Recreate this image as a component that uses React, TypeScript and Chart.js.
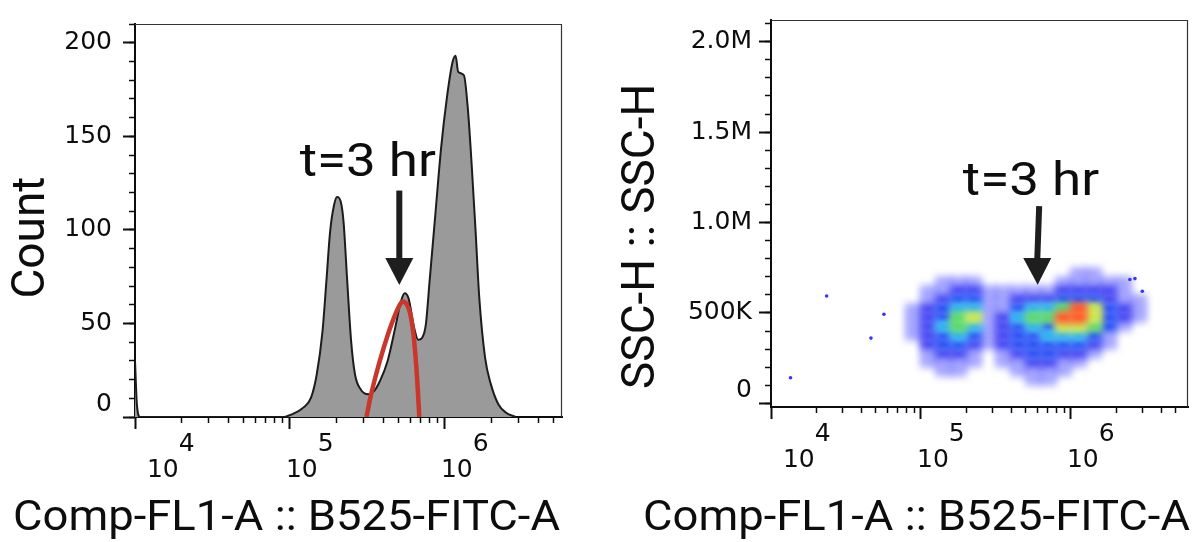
import React, { useEffect, useRef } from 'react';
import { Chart, registerables } from 'chart.js';

Chart.register(...registerables);

// ---------- Left panel: histogram (Comp-FL1-A vs Count) ----------
const histFluor = [10000, 10300, 10800, 89300, 102800, 121900, 136800, 148900, 162200, 171800, 181600, 192300, 201400, 212800, 221800, 234400, 248300, 263000, 286400, 320600, 349100, 380200, 426600, 477500, 520000, 550800, 582100, 633900, 671400, 711200, 753400, 796200, 867000, 944100, 1028000, 1119000, 1172000, 1219000, 1327000, 1406000, 1489000, 1578000, 1667000, 1816000, 1977000, 2218000, 2483000, 2864000];
const histCount = [30, 6, 0, 0, 1.4, 5, 10.3, 22.7, 45.7, 72.3, 98.9, 113, 117.6, 115, 104.3, 72.3, 40.4, 22.7, 14.7, 12.1, 13.8, 19.1, 29.8, 47.5, 61.7, 66.1, 63.5, 47.5, 41.3, 42.2, 49.3, 72.3, 107.8, 143.3, 170, 189.4, 193, 184.4, 182.6, 164.9, 134.8, 99.3, 63.8, 31.9, 17.7, 6.7, 2.3, 0];

// red fitted curve for the t=3 hr population
const fitFluor = [311900, 330400, 359700, 402700, 450800, 505800, 534600, 566200, 599800, 633900, 663700, 683900];
const fitCount = [0, 10.3, 22.7, 36.9, 49.3, 59.2, 61.7, 60.3, 54.6, 40.4, 19.1, 0];

const countMajorTicks = [0, 50, 100, 150, 200];
const countMinorTicks = [0, 10, 20, 30, 40, 50, 60, 70, 80, 90, 100, 110, 120, 130, 140, 150, 160, 170, 180, 190, 200, 210];

// shared log x axis
const fluorMajorTicks = [10000, 100000, 1000000];
const fluorExponents = ['4', '5', '6'];
const fluorMinorTicks = [20000, 30000, 40000, 50000, 60000, 70000, 80000, 90000, 200000, 300000, 400000, 500000, 600000, 700000, 800000, 900000, 2000000, 3000000, 4000000, 5000000];
const xTitleText = 'Comp-FL1-A :: B525-FITC-A';

// ---------- Right panel: pseudocolor density (Comp-FL1-A vs SSC-H) ----------
const sscMajorTicks = [0, 500000, 1000000, 1500000, 2000000];
const sscMajorLabels = ['0', '500K', '1.0M', '1.5M', '2.0M'];
const sscMinorTicks = [0, 100000, 200000, 300000, 400000, 500000, 600000, 700000, 800000, 900000, 1000000, 1100000, 1200000, 1300000, 1400000, 1500000, 1600000, 1700000, 1800000, 1900000, 2000000, 2100000];

// density cell centres (x: FL1 value, y: SSC-H value) and density level per cell (0 = empty .. 7 = highest)
const densityColumns = [89100, 112200, 141300, 177800, 223900, 281800, 354800, 446700, 562300, 707900, 891300, 1122000, 1413000, 1778000, 2239000, 2818000];
const densityRows = [725000, 675000, 625000, 575000, 525000, 475000, 425000, 375000, 325000, 275000, 225000, 175000, 125000];
const densityLevels = [
  '0000000000011000',
  '0011100000111110',
  '0112211111222210',
  '0123311222333211',
  '1234411344576321',
  '1235612455776321',
  '1245412343665310',
  '1234312334443100',
  '0233212333332100',
  '0122101233221000',
  '0111101122110000',
  '0011000111100000',
  '0000000011000000',
];
const levelColors = ['rgba(0,0,0,0)', 'rgba(50,50,255,0.4)', 'rgba(30,30,240,0.8)', '#2048f5', '#1fb0f0', '#50d860', '#c8e640', '#ff5018'];

// isolated events
const outlierFluor = [13500, 23500, 46400, 56600, 2470000, 2670000, 2990000];
const outlierSsc = [142000, 594000, 361000, 493000, 685000, 690000, 620000];

const INK = '#0d0d0d';
const TICK_FONT = { family: '"DejaVu Sans", sans-serif', size: 25, lineHeight: 1.04 };
const TITLE_FONT = { family: 'Roboto, sans-serif', size: 46, lineHeight: 1 };

function fluorLabel(i: number) {
  const lead = i === 0 ? '  ' : '';
  return [lead + '    ' + fluorExponents[i], lead + '10'];
}

function scalesFor(p: any) {
  return {
    x: {
      type: 'logarithmic', position: 'bottom', weight: 2, min: 10000, max: p.xMax,
      afterBuildTicks: (s: any) => { s.ticks = fluorMajorTicks.map((v) => ({ value: v })); },
      afterFit: (s: any) => { s.height = p.xHeight; },
      grid: { drawOnChartArea: false, drawTicks: true, tickLength: 12, tickWidth: 2, tickColor: INK },
      border: { display: false },
      ticks: { autoSkip: false, maxRotation: 0, minRotation: 0, align: 'start', labelOffset: -4, padding: 2, color: INK, font: TICK_FONT, callback: (_v: any, i: number) => fluorLabel(i) },
      title: { display: false },
    },
    xMinor: {
      type: 'logarithmic', position: 'bottom', weight: 1, min: 10000, max: p.xMax,
      afterBuildTicks: (s: any) => { s.ticks = fluorMinorTicks.filter((v) => v <= p.xMax).map((v) => ({ value: v })); },
      afterFit: (s: any) => { s.height = 0; },
      grid: { drawOnChartArea: false, drawTicks: true, tickLength: 6, tickWidth: 1.5, tickColor: INK },
      border: { display: true, width: 2, color: INK },
      ticks: { autoSkip: false, maxRotation: 0, minRotation: 0, padding: 0, callback: () => '' },
    },
    y: {
      type: 'linear', position: 'left', weight: 2, min: p.yMin, max: p.yMax,
      afterBuildTicks: (s: any) => { s.ticks = p.yMajor.map((v: number) => ({ value: v })); },
      afterFit: (s: any) => { s.width = p.yWidth; },
      grid: { drawOnChartArea: false, drawTicks: true, tickLength: 12, tickWidth: 2, tickColor: INK },
      border: { display: false },
      ticks: { autoSkip: false, padding: p.yPad, color: INK, font: TICK_FONT, callback: (v: any, i: number) => p.yLabel(v, i) },
      title: { display: true, text: p.yTitle, color: INK, font: TITLE_FONT, padding: { top: p.yTitlePad, bottom: 0 } },
    },
    yMinor: {
      type: 'linear', position: 'left', weight: 1, min: p.yMin, max: p.yMax,
      afterBuildTicks: (s: any) => { s.ticks = p.yMinor.map((v: number) => ({ value: v })); },
      afterFit: (s: any) => { s.width = 0; },
      grid: { drawOnChartArea: false, drawTicks: true, tickLength: 6, tickWidth: 1.5, tickColor: INK },
      border: { display: true, width: 2, color: INK },
      ticks: { autoSkip: false, padding: 0, callback: () => '' },
    },
  };
}

const notePlugin = {
  id: 'arrowNote',
  afterDraw(chart: any, _args: any, o: any) {
    if (!o || !o.text) return;
    const { ctx, chartArea: a } = chart;
    const xs = chart.scales.x;
    const ys = chart.scales.y;
    ctx.save();
    // plot frame (top / right)
    ctx.strokeStyle = '#333';
    ctx.lineWidth = 1.2;
    ctx.beginPath();
    ctx.moveTo(a.left, a.top + 0.5);
    ctx.lineTo(a.right - 0.5, a.top + 0.5);
    ctx.lineTo(a.right - 0.5, a.bottom);
    ctx.stroke();
    // x axis title (right-aligned with the plot, as in the source figure)
    ctx.save();
    ctx.translate(a.right + o.titleShift, o.titleBaseline);
    ctx.scale(1.08, 1);
    ctx.fillStyle = INK;
    ctx.font = '42px Roboto, sans-serif';
    ctx.textAlign = 'right';
    ctx.textBaseline = 'alphabetic';
    ctx.fillText(xTitleText, 0, 0);
    ctx.restore();
    // annotation text
    const tx = xs.getPixelForValue(o.textX);
    const ty = ys.getPixelForValue(o.textY);
    ctx.save();
    ctx.translate(tx, ty);
    ctx.scale(1.15, 1);
    ctx.fillStyle = INK;
    ctx.font = '46px Roboto, sans-serif';
    ctx.textAlign = 'center';
    ctx.textBaseline = 'alphabetic';
    ctx.fillText(o.text, 0, 0);
    ctx.restore();
    // arrow
    const topX = xs.getPixelForValue(o.topX), topY = ys.getPixelForValue(o.topY);
    const baseX = xs.getPixelForValue(o.baseX), baseY = ys.getPixelForValue(o.baseY);
    const tipX = xs.getPixelForValue(o.tipX), tipY = ys.getPixelForValue(o.tipY);
    ctx.strokeStyle = '#1e1e1e';
    ctx.lineWidth = 6;
    ctx.beginPath();
    ctx.moveTo(topX, topY);
    ctx.lineTo(baseX, baseY + 2);
    ctx.stroke();
    ctx.fillStyle = '#1e1e1e';
    ctx.beginPath();
    ctx.moveTo(baseX - 14, baseY);
    ctx.lineTo(baseX + 14, baseY);
    ctx.lineTo(tipX, tipY);
    ctx.closePath();
    ctx.fill();
    ctx.restore();
  },
};

const blurPlugin = {
  id: 'cellBlur',
  beforeDatasetDraw(chart: any, args: any, o: any) {
    if (o && o.px && args.index === 1) {
      chart.ctx.save();
      chart.ctx.filter = `blur(${o.px}px)`;
    }
  },
  afterDatasetDraw(chart: any, args: any, o: any) {
    if (o && o.px && args.index === 1) chart.ctx.restore();
  },
};

export default function App() {
  const leftRef = useRef<HTMLCanvasElement>(null);
  const rightRef = useRef<HTMLCanvasElement>(null);

  useEffect(() => {
    const left = new Chart(leftRef.current as HTMLCanvasElement, {
      type: 'line',
      data: {
        datasets: [
          {
            label: 't=3 hr',
            data: fitFluor.map((x, i) => ({ x, y: fitCount[i] })),
            borderColor: '#c9372c',
            borderWidth: 4.5,
            fill: false,
            pointRadius: 0,
            cubicInterpolationMode: 'monotone',
          },
          {
            label: 'Count',
            data: histFluor.map((x, i) => ({ x, y: histCount[i] })),
            borderColor: '#1c1c1c',
            borderWidth: 2,
            backgroundColor: '#9a9a9a',
            fill: 'origin',
            pointRadius: 0,
            cubicInterpolationMode: 'monotone',
          },
        ],
      } as any,
      options: {
        animation: false,
        responsive: false,
        events: [],
        layout: { padding: { left: 0, right: 38, top: 7, bottom: 0 } },
        plugins: {
          legend: { display: false },
          tooltip: { enabled: false },
          arrowNote: { text: 't=3 hr', textX: 318000, textY: 129, topX: 508000, topY: 121, baseX: 508000, baseY: 85, tipX: 508000, tipY: 70.6, titleShift: -2, titleBaseline: 530 },
        } as any,
        scales: scalesFor({
          xMax: 5700000, xHeight: 125,
          yMin: 0, yMax: 210, yMajor: countMajorTicks, yMinor: countMinorTicks,
          yLabel: (v: number) => (v === 0 ? ['0', ''] : String(v)),
          yWidth: 135, yPad: 11, yTitle: 'Count   ', yTitlePad: 9,
        }) as any,
      },
      plugins: [notePlugin as any],
    });

    const cellImgs = levelColors.map((c) => {
      const cv = document.createElement('canvas');
      cv.width = 17;
      cv.height = 11;
      const g = cv.getContext('2d') as CanvasRenderingContext2D;
      g.fillStyle = c;
      g.fillRect(0, 0, 17, 11);
      return cv;
    });
    const cells: any[] = [];
    for (let lvl = 1; lvl <= 7; lvl++) {
      densityLevels.forEach((row, r) => {
        for (let c = 0; c < row.length; c++) {
          if (Number(row[c]) === lvl) cells.push({ x: densityColumns[c], y: densityRows[r], level: lvl });
        }
      });
    }

    const right = new Chart(rightRef.current as HTMLCanvasElement, {
      type: 'scatter',
      data: {
        datasets: [
          {
            label: 'isolated events',
            data: outlierFluor.map((x, i) => ({ x, y: outlierSsc[i] })),
            pointRadius: 1.8,
            pointBackgroundColor: '#3434ff',
            pointBorderWidth: 0,
          },
          {
            label: 'density',
            data: cells,
            pointRadius: 5,
            pointBorderWidth: 0,
            pointStyle: (ctx: any) => cellImgs[ctx.raw ? ctx.raw.level : 0],
          },
        ],
      } as any,
      options: {
        animation: false,
        responsive: false,
        events: [],
        layout: { padding: { left: 0, right: 11, top: 13, bottom: 0 } },
        plugins: {
          legend: { display: false },
          tooltip: { enabled: false },
          cellBlur: { px: 3.5 },
          arrowNote: { text: 't=3 hr', textX: 541000, textY: 1155000, topX: 613800, topY: 1091000, baseX: 596000, baseY: 804000, tipX: 599800, tipY: 656000, titleShift: 2, titleBaseline: 530 },
        } as any,
        scales: scalesFor({
          xMax: 6030000, xHeight: 135,
          yMin: -20000, yMax: 2120000, yMajor: sscMajorTicks, yMinor: sscMinorTicks,
          yLabel: (v: number, i: number) => (i === 0 ? ['0', ''] : sscMajorLabels[i]),
          yWidth: 171, yPad: 7, yTitle: 'SSC-H :: SSC-H    ', yTitlePad: 19,
        }) as any,
      },
      plugins: [notePlugin as any, blurPlugin as any],
    });

    return () => {
      left.destroy();
      right.destroy();
    };
  }, []);

  return (
    <div style={{ position: 'fixed', left: 0, top: 0, width: 1199, height: 542, background: '#ffffff' }}>
      <canvas ref={leftRef} width={600} height={542} style={{ position: 'absolute', left: 0, top: 0 }} />
      <canvas ref={rightRef} width={599} height={542} style={{ position: 'absolute', left: 600, top: 0 }} />
    </div>
  );
}
